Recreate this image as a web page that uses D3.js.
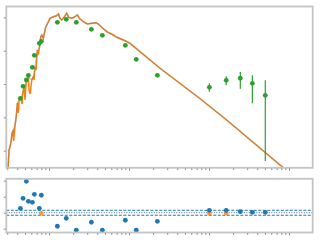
<!DOCTYPE html>
<html>
<head>
<meta charset="utf-8">
<script src="https://cdn.jsdelivr.net/npm/d3@7"></script>
<style>
  body { margin: 0; background: #fff; }
  svg { display: block; }
</style>
</head>
<body>
<div id="chart"></div>
<script>
// model curve (orange)
var modelX = [0.307, 0.316, 0.326, 0.335, 0.345, 0.355, 0.360, 0.376, 0.387, 0.402,
    0.413, 0.422, 0.443, 0.460, 0.469, 0.487, 0.501, 0.516, 0.531, 0.551,
    0.562, 0.579, 0.608, 0.637, 0.649, 0.668, 0.688, 0.714, 0.729, 0.756,
    0.788, 0.811, 0.849, 0.899, 0.936, 1.03, 1.13, 1.22, 1.31, 1.37,
    1.44, 1.54, 1.66, 1.76, 1.92, 2.05, 2.26, 2.39, 2.68, 3.01,
    3.42, 3.87, 4.13, 4.69, 5.26, 6.37, 7.02, 8.91, 10.3, 24.4,
    81.1, 166, 849, 1190];
var modelY = [0.303, 1.05, 1.38, 1.86, 3.40, 3.90, 1.95, 5.90, 9.57, 27.0,
    13.5, 33.2, 38.1, 25.2, 53.8, 76.0, 33.2, 107, 132, 163,
    66.2, 50.2, 132, 166, 132, 331, 264, 1050, 743, 1181,
    2630, 2960, 2355, 4700, 5900, 9380, 10470, 11000, 12600, 9380,
    8340, 10050, 13250, 10050, 9380, 10050, 11800, 9380, 7410, 6320,
    6640, 6920, 6320, 4700, 3720, 2960, 2525, 1995, 1667, 297,
    33.2, 8.34, 0.309, 0.157];
// dips of the orange curve that the smoothed (grey) curve skips
var dipIndex = [6, 10, 13, 16, 20, 21, 24, 26, 28];

// observed points (green)
var obsX = [0.438, 0.473, 0.520, 0.551, 0.618, 0.655, 0.756, 0.801, 1.27, 1.64,
    2.19, 3.38, 4.64, 8.99, 12.3, 22.6, 101, 164, 246, 348, 505];
var obsY = [37.3, 85.5, 132, 183, 318, 728, 1667, 1915, 7112, 8750,
    7112, 4385, 2900, 1453, 552, 183, 79.8, 129, 149, 105, 45.9];
var obsLo = [null, null, null, null, null, null, null, null, null, null,
    null, null, null, null, null, null, 58.9, 91.6, 72.4, 26.4, 0.49];
var obsHi = [null, null, null, null, null, null, null, null, null, null,
    null, null, null, null, null, null, 105, 171, 230, 183, 129];

// residuals (blue) and flagged points (orange)
var resid = [0.275, 0.90, 1.96, 0.71, 0.65, 1.15, 0.275, 1.09, -0.85, -0.35,
    -1.10, -0.60, -1.10, -0.475, -1.10, -0.54, 0.15, 0.15, 0.06, 0.025, 0.025];
var flagX = [0.801, 101, 164];
var flagY = [-0.04, -0.04, -0.04];

var bandLines = [0.15, -0.16];
var zeroLine = 0;

var xTicksMajor = [1, 10, 100, 1000];
var yTicksTop = [1, 10, 100, 1000, 10000];
var yTicksRes = [-1, 0, 1, 2];

var svgWidth = 320;
var svgHeight = 240;

var left = 6.3, right = 312.7;
var topY0 = 6.5, topY1 = 167.8;
var resY0 = 178.8, resY1 = 232.5;

var svg = d3.select("#chart").append("svg")
    .attr("width", svgWidth)
    .attr("height", svgHeight);

var xScale = d3.scaleLog().domain([0.292, 1977]).range([left, right]);
var yScale = d3.scaleLog().domain([0.307, 21200]).range([topY1, topY0]);
var rScale = d3.scaleLinear().domain([-1.24, 2.12]).range([resY1, resY0]);

var defs = svg.append("defs");
defs.append("clipPath").attr("id", "clipTop")
    .append("rect").attr("x", left).attr("y", topY0)
    .attr("width", right - left).attr("height", topY1 - topY0);
defs.append("clipPath").attr("id", "clipRes")
    .append("rect").attr("x", left).attr("y", resY0)
    .attr("width", right - left).attr("height", resY1 - resY0);

var minorX = xScale.ticks().filter(d => xTicksMajor.indexOf(d) < 0);

function drawTicks(yPos, yTicks, yS) {
    var g = svg.append("g").attr("class", "ticks");
    g.append("g")
        .attr("transform", `translate(0, ${yPos + 0.5})`)
        .call(d3.axisBottom(xScale).tickValues(xTicksMajor).tickSize(2.5).tickFormat(""));
    g.append("g")
        .attr("transform", `translate(0, ${yPos + 0.5})`)
        .call(d3.axisBottom(xScale).tickValues(minorX).tickSize(1.8).tickFormat(""));
    g.append("g")
        .attr("transform", `translate(${left - 0.5}, 0)`)
        .call(d3.axisLeft(yS).tickValues(yTicks).tickSize(2).tickFormat(""));
    g.selectAll(".domain").remove();
    g.selectAll("line").attr("stroke", "#8c8c8c").attr("stroke-width", 1);
}

// top panel
var topG = svg.append("g").attr("clip-path", "url(#clipTop)");

var modelData = modelX.map((x, i) => ({x: x, y: modelY[i], i: i}));
var line = d3.line().x(d => xScale(d.x)).y(d => yScale(d.y));

topG.append("path")
    .datum(modelData)
    .attr("fill", "none")
    .attr("stroke", "#ff7f0e")
    .attr("stroke-width", 1.5)
    .attr("d", line);

topG.append("path")
    .datum(modelData.filter(d => dipIndex.indexOf(d.i) < 0))
    .attr("fill", "none")
    .attr("stroke", "#7f7f7f")
    .attr("stroke-opacity", 0.38)
    .attr("stroke-width", 1.5)
    .attr("d", line);

var obsData = obsX.map((x, i) => ({x: x, y: obsY[i], lo: obsLo[i], hi: obsHi[i]}));

topG.selectAll(".err")
    .data(obsData.filter(d => d.lo !== null))
    .enter()
    .append("line")
    .attr("x1", d => xScale(d.x))
    .attr("x2", d => xScale(d.x))
    .attr("y1", d => yScale(d.hi))
    .attr("y2", d => yScale(d.lo))
    .attr("stroke", "#2ca02c")
    .attr("stroke-width", 1.2);

topG.selectAll(".obs")
    .data(obsData)
    .enter()
    .append("circle")
    .attr("cx", d => xScale(d.x))
    .attr("cy", d => yScale(d.y))
    .attr("r", 2.4)
    .attr("fill", "#2ca02c");

// residual panel
var resG = svg.append("g").attr("clip-path", "url(#clipRes)");

resG.selectAll(".band")
    .data(bandLines)
    .enter()
    .append("line")
    .attr("x1", left).attr("x2", right)
    .attr("y1", d => rScale(d)).attr("y2", d => rScale(d))
    .attr("stroke", "#1f77b4")
    .attr("stroke-width", 1)
    .attr("stroke-dasharray", "3,1.5");

resG.append("line")
    .attr("x1", left).attr("x2", right)
    .attr("y1", rScale(zeroLine)).attr("y2", rScale(zeroLine))
    .attr("stroke", "#52708c")
    .attr("stroke-width", 1)
    .attr("stroke-dasharray", "1,1.5");

resG.selectAll(".flag")
    .data(flagX.map((x, i) => ({x: x, y: flagY[i]})))
    .enter()
    .append("circle")
    .attr("cx", d => xScale(d.x))
    .attr("cy", d => rScale(d.y))
    .attr("r", 2.3)
    .attr("fill", "#ff7f0e")
    .attr("opacity", 0.8);

resG.selectAll(".res")
    .data(obsX.map((x, i) => ({x: x, y: resid[i]})))
    .enter()
    .append("circle")
    .attr("cx", d => xScale(d.x))
    .attr("cy", d => rScale(d.y))
    .attr("r", 2.4)
    .attr("fill", "#1f77b4");

// frames
[[topY0, topY1], [resY0, resY1]].forEach(function (p) {
    svg.append("rect")
        .attr("x", left).attr("y", p[0])
        .attr("width", right - left).attr("height", p[1] - p[0])
        .attr("fill", "none")
        .attr("stroke", "#c4c4c4")
        .attr("stroke-width", 1.8);
});

drawTicks(topY1, yTicksTop, yScale);
drawTicks(resY1, yTicksRes, rScale);
</script>
</body>
</html>
